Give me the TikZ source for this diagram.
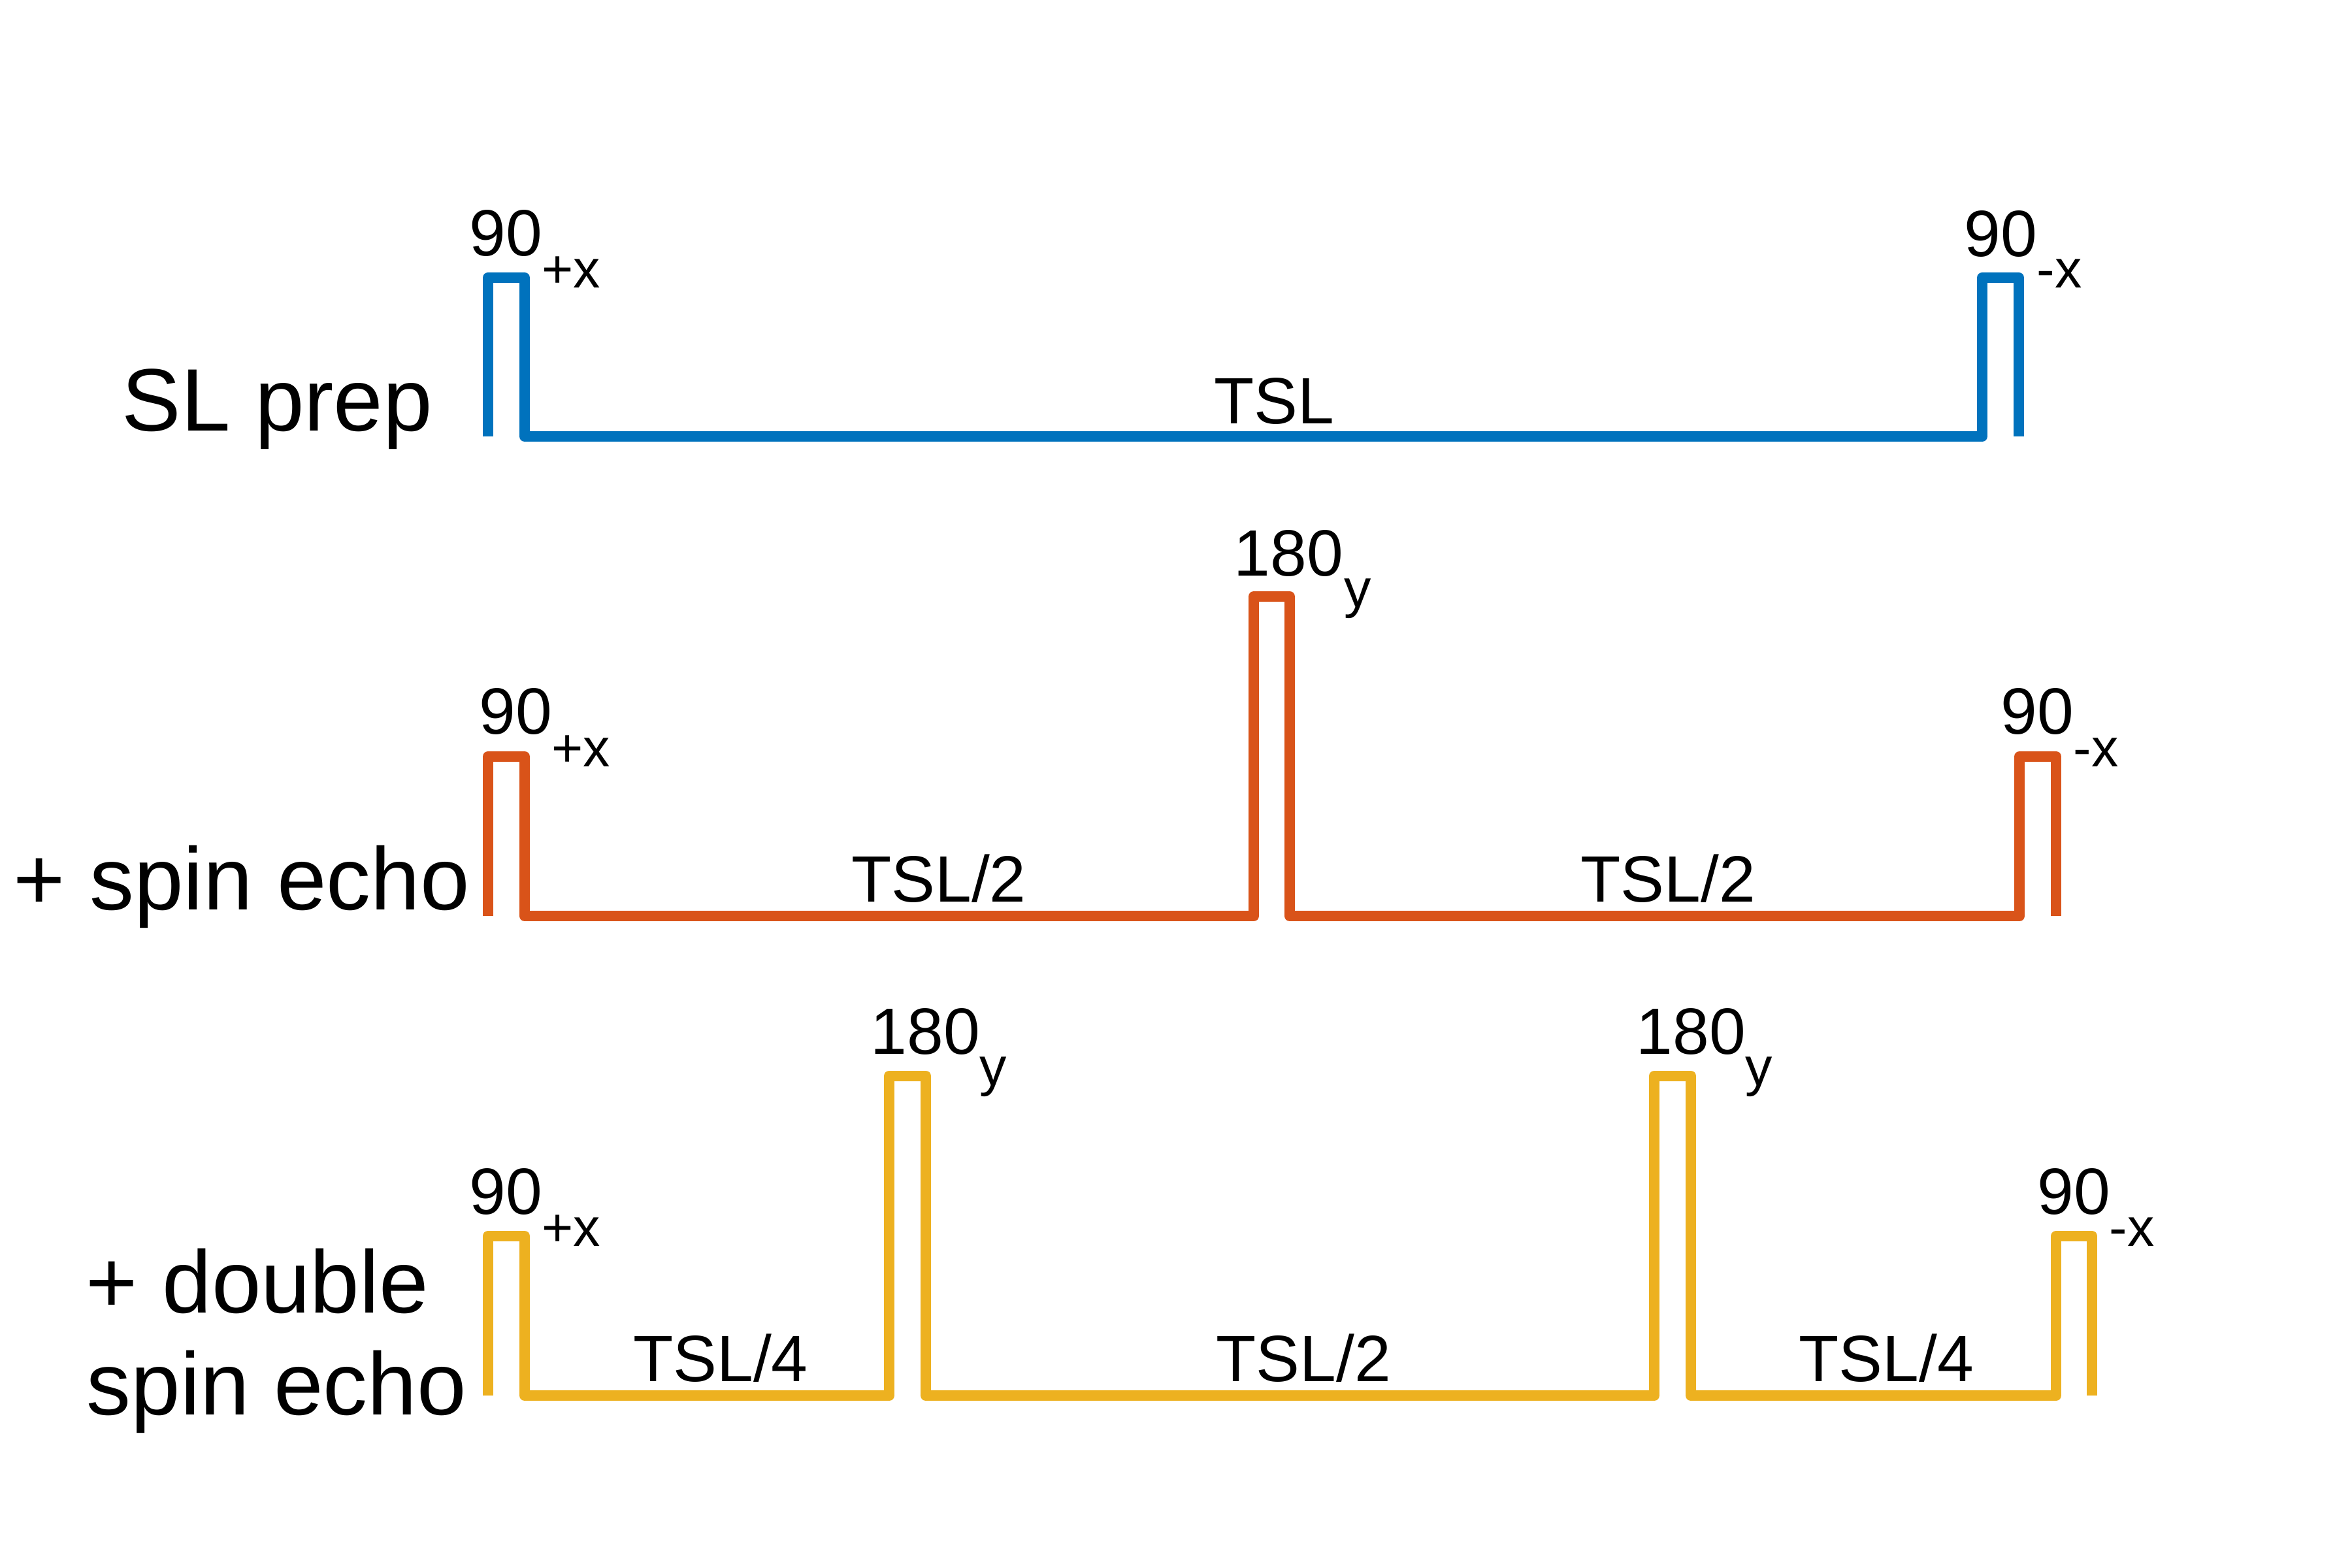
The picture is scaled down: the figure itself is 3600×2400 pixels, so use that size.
\documentclass[tikz,border=0pt]{standalone}
\usepackage{fontspec}
\setmainfont{Liberation Sans}
\definecolor{slblue}{HTML}{0072BD}
\definecolor{slorange}{HTML}{D95319}
\definecolor{slyellow}{HTML}{EDB120}
\tikzset{
  seq/.style={line width=4.55pt, line join=round, line cap=butt},
  big/.style={anchor=base west, inner sep=0pt, font=\fontsize{38.6}{46}\selectfont},
  ang/.style={anchor=base west, inner sep=0pt, font=\fontsize{28.5}{34}\selectfont},
  sub/.style={anchor=base west, inner sep=0pt, font=\fontsize{23.5}{28}\selectfont},
  dur/.style={anchor=base, inner sep=0pt, font=\fontsize{28.5}{34}\selectfont},
}
\begin{document}
\begin{tikzpicture}[x=0.01cm, y=-0.01cm]
\useasboundingbox (0,0) rectangle (3600,2400);
\fill[white] (0,0) rectangle (3600,2400);

% row labels
\node[big] (lab1) at (186,659) {SL prep};
\node[big] (lab2) at (20,1392) {+ spin echo};
\node[big] (lab3a) at (131,2009) {+ double};
\node[big] (lab3b) at (132,2165) {spin echo};

% ---- SL prep (blue)
\draw[seq, slblue] (747,668) -- (747,425) -- (803,425) -- (803,668)
  -- (3034,668) -- (3034,425) -- (3090,425) -- (3090,668);
\node[ang] (b90a) at (718,391) {90};
\node[sub] (b90as) at (829,440) {+x};
\node[ang] (b90b) at (3006,392) {90};
\node[sub] (b90bs) at (3117,440) {-x};
\node[dur] (btsl) at (1950,648) {TSL};

% ---- spin echo (orange)
\draw[seq, slorange] (747,1402) -- (747,1158) -- (803,1158) -- (803,1402)
  -- (1919,1402) -- (1919,913) -- (1974,913) -- (1974,1402)
  -- (3091,1402) -- (3091,1158) -- (3147,1158) -- (3147,1402);
\node[ang] (r90a) at (733,1123) {90};
\node[sub] (r90as) at (844,1173) {+x};
\node[ang] (r180) at (1888,881) {180};
\node[sub] (r180s) at (2057,929) {y};
\node[ang] (r90b) at (3062,1123) {90};
\node[sub] (r90bs) at (3173,1173) {-x};
\node[dur] (rtsl1) at (1437,1380) {TSL/2};
\node[dur] (rtsl2) at (2553,1380) {TSL/2};

% ---- double spin echo (yellow)
\draw[seq, slyellow] (747,2136) -- (747,1892) -- (803,1892) -- (803,2136)
  -- (1361,2136) -- (1361,1647) -- (1417,1647) -- (1417,2136)
  -- (2532,2136) -- (2532,1647) -- (2588,1647) -- (2588,2136)
  -- (3147,2136) -- (3147,1892) -- (3202,1892) -- (3202,2136);
\node[ang] (y90a) at (718,1858) {90};
\node[sub] (y90as) at (829,1907) {+x};
\node[ang] (y180a) at (1332,1613) {180};
\node[sub] (y180as) at (1499,1661) {y};
\node[ang] (y180b) at (2504,1613) {180};
\node[sub] (y180bs) at (2671,1661) {y};
\node[ang] (y90b) at (3118,1858) {90};
\node[sub] (y90bs) at (3228,1907) {-x};
\node[dur] (ytsl1) at (1103,2114) {TSL/4};
\node[dur] (ytsl2) at (1995,2114) {TSL/2};
\node[dur] (ytsl3) at (2887,2114) {TSL/4};
\end{tikzpicture}
\end{document}
